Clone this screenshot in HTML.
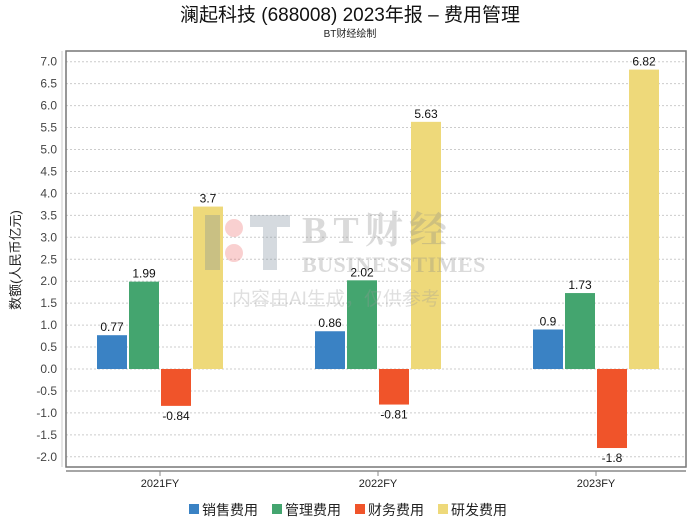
<!DOCTYPE html>
<html><head><meta charset="utf-8"><style>
body{margin:0;background:#fff;width:700px;height:524px;overflow:hidden;font-family:"Liberation Sans","Noto Sans CJK SC",sans-serif}
</style></head><body>
<svg id="c" width="700" height="524" font-family="Liberation Sans, Noto Sans CJK SC, sans-serif">
<text x="350" y="21" text-anchor="middle" font-size="19" fill="#111">澜起科技 (688008) 2023年报  –  费用管理</text>
<text x="350" y="37" text-anchor="middle" font-size="10" fill="#222">BT财经绘制</text>
<g id="grid"></g>
<rect x="66" y="51" width="620" height="416" fill="none" stroke="#777" stroke-width="1.5"/>
<line x1="66" y1="471" x2="686" y2="471" stroke="#888" stroke-width="1.5"/>
<line x1="62" y1="51" x2="62" y2="467" stroke="#ccc"/>
<g id="bars"></g>
<g opacity="0.3">
<text x="302" y="243" font-size="38" letter-spacing="6" font-family="Liberation Serif, Noto Serif CJK SC, serif" font-weight="bold" fill="#888">BT财经</text>
<text x="302" y="272" font-size="22" letter-spacing="0.5" font-family="Liberation Serif, serif" font-weight="bold" fill="#888">BUSINESSTIMES</text>
<text x="232" y="305" font-size="19" fill="#999">内容由AI生成，仅供参考</text>
<circle cx="234" cy="228" r="9" fill="#e66"/><circle cx="234" cy="253" r="9" fill="#e66"/>
<rect x="205" y="215" width="15" height="55" fill="#789"/><rect x="250" y="215" width="40" height="12" fill="#789"/><rect x="263" y="227" width="14" height="43" fill="#789"/>
</g>
<text transform="translate(20,260) rotate(-90)" text-anchor="middle" font-size="13" fill="#222">数额(人民币亿元)</text>
<g id="legend"></g>
</svg>
<script>
const categories=["2021FY","2022FY","2023FY"];
const seriesNames=["销售费用","管理费用","财务费用","研发费用"];
const sales=[0.77,0.86,0.9];
const admin=[1.99,2.02,1.73];
const finance=[-0.84,-0.81,-1.8];
const rnd=[3.7,5.63,6.82];
const yTicks=[7.0,6.5,6.0,5.5,5.0,4.5,4.0,3.5,3.0,2.5,2.0,1.5,1.0,0.5,0.0,-0.5,-1.0,-1.5,-2.0];
const colors=["#3a82c4","#44a56f","#f0542a","#eed97a"];
const NS="http://www.w3.org/2000/svg";
function y(v){return 369-v*43.9;}
function xc(i){return 160+i*218;}
function mk(t,a,p){const e=document.createElementNS(NS,t);for(const k in a)e.setAttribute(k,a[k]);p.appendChild(e);return e;}
const grid=document.getElementById('grid');
yTicks.forEach(v=>{
  const l=mk('line',{x1:66,x2:686,y1:y(v),y2:y(v),stroke:'#ccc','stroke-dasharray':'2,2'},grid);
  
  
  const t=mk('text',{x:57,y:y(v)+4,'text-anchor':'end','font-size':12,fill:'#444'},grid);
  t.textContent=v.toFixed(1);
  
  
});
const bars=document.getElementById('bars');
const series=[sales,admin,finance,rnd];
categories.forEach((c,i)=>{
  mk('line',{x1:xc(i),x2:xc(i),y1:471,y2:476,stroke:'#888'},bars);
  const t=mk('text',{x:xc(i),y:487,'text-anchor':'middle','font-size':11,fill:'#222'},bars);
  t.textContent=c;
  
  
  series.forEach((s,j)=>{
    const v=s[i];const x=xc(i)-63+j*32;
    const top=Math.min(y(v),y(0)),h=Math.abs(y(v)-y(0));
    const r=mk('rect',{x:x,y:top,width:30,height:h,fill:colors[j]},bars);
    
    
    const lb=mk('text',{x:x+15,y:v>=0?y(v)-4:y(v)+14,'text-anchor':'middle','font-size':12,fill:'#111'},bars);
    lb.textContent=String(v);
    
    
  });
});
const lg=document.getElementById('legend');
seriesNames.forEach((n,j)=>{
  const x=189+j*83;
  const r=mk('rect',{x:x,y:504,width:10,height:10,fill:colors[j]},lg);
  
  
  const t=mk('text',{x:x+13,y:515,'font-size':14,fill:'#222'},lg);
  t.textContent=n;
  
  
});
</script>
</body></html>
